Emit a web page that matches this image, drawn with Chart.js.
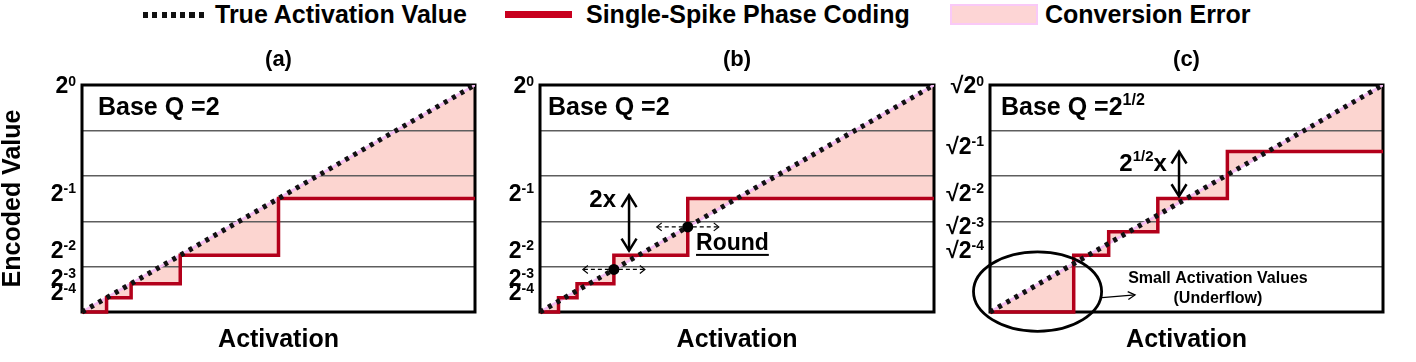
<!DOCTYPE html>
<html>
<head>
<meta charset="utf-8">
<script src="https://cdn.jsdelivr.net/npm/chart.js@4.4.1/dist/chart.umd.min.js"></script>
<style>
  body { margin: 0; width: 1416px; height: 362px; background: #fff; overflow: hidden; position: relative; font-family: "Liberation Sans", Arial, sans-serif; }
  .lg { position: absolute; }
  .lt { position: absolute; top: 0; font-weight: bold; font-size: 25px; line-height: 28px; color: #000; white-space: nowrap; }
  canvas { position: absolute; top: 36px; }
</style>
</head>
<body>
<div class="lg" style="left:143px;top:12px;width:65px;height:6px;background:repeating-linear-gradient(90deg,#111 0 5px,transparent 5px 9.3px)"></div>
<div class="lt" style="left:215px">True Activation Value</div>
<div class="lg" style="left:505px;top:11px;width:67px;height:7px;background:#C8001E"></div>
<div class="lt" style="left:586px">Single-Spike Phase Coding</div>
<div class="lg" style="left:950px;top:4px;width:88px;height:21px;box-sizing:border-box;background:#FDD5D5;border:2px solid #F9C9F7"></div>
<div class="lt" style="left:1045px">Conversion Error</div>

<canvas id="pa" width="480" height="326" style="left:0"></canvas>
<canvas id="pb" width="470" height="326" style="left:480px"></canvas>
<canvas id="pc" width="472" height="326" style="left:944px"></canvas>

<script>
// both axes run 0..1, true activation is the diagonal
const diagonal = [0, 1];

// (a) base 2, floor
const stepXA = [0.0625, 0.125, 0.25, 0.5];
const levelsA = [0, 0.0625, 0.125, 0.25, 0.5];
// (b) base 2, round
const stepXB = [0.047, 0.094, 0.1875, 0.375];
const levelsB = [0, 0.0625, 0.125, 0.25, 0.5];
const roundPointsB = [0.1875, 0.375];
// (c) base 2^(1/2)
const stepXC = [0.213, 0.302, 0.427, 0.604];
const levelsC = [0, 0.25, 0.354, 0.5, 0.707];

// y tick labels
const tickValsAB = [1, 0.5, 0.25, 0.125, 0.0625];
const tickValsC = [1, 0.707, 0.5, 0.354, 0.25];
const tickExps = ['0', '-1', '-2', '-3', '-4'];

const FONT = '"Liberation Sans", Arial, sans-serif';
const bold = n => `bold ${n}px ${FONT}`;
Chart.defaults.font.family = FONT;
Chart.defaults.color = '#000';

function stepPoints(xs, lv) {
  const pts = [{x: 0, y: lv[0]}];
  xs.forEach((sx, i) => {
    pts.push({x: sx, y: lv[i]}, {x: sx, y: lv[i + 1]});
  });
  pts.push({x: 1, y: lv[lv.length - 1]});
  return pts;
}

function drawRich(ctx, parts, x, y, align) {
  let w = 0;
  parts.forEach(p => { ctx.font = p.font; p.w = ctx.measureText(p.t).width; w += p.w; });
  let cx = align === 'right' ? x - w : align === 'center' ? x - w / 2 : x;
  ctx.textAlign = 'left';
  ctx.textBaseline = 'middle';
  parts.forEach(p => { ctx.font = p.font; ctx.fillText(p.t, cx, y + (p.dy || 0)); cx += p.w; });
  return w;
}

function chevron(ctx, x, y, ang, len, half) {
  const bx = x - Math.cos(ang) * len, by = y - Math.sin(ang) * len;
  const nx = -Math.sin(ang) * half, ny = Math.cos(ang) * half;
  ctx.beginPath();
  ctx.moveTo(bx + nx, by + ny);
  ctx.lineTo(x, y);
  ctx.lineTo(bx - nx, by - ny);
  ctx.stroke();
}

function doubleArrow(ctx, px, yBottom, yTop) {
  ctx.beginPath();
  ctx.moveTo(px, yBottom);
  ctx.lineTo(px, yTop);
  ctx.stroke();
  chevron(ctx, px, yTop, -Math.PI / 2, 12, 7.5);
  chevron(ctx, px, yBottom, Math.PI / 2, 12, 7.5);
}

const panelInfo = {
  a: {tickVals: tickValsAB, tickBase: '2', baseSup: '', baseDx: 16},
  b: {tickVals: tickValsAB, tickBase: '2', baseSup: '', baseDx: 8},
  c: {tickVals: tickValsC, tickBase: '\u221A2', baseSup: '1/2', baseDx: 11}
};

function extrasB(ctx, X, Y) {
  // dashed "round" arrows
  ctx.lineWidth = 1.2;
  roundPointsB.forEach(v => {
    const px = X(v), py = Y(v);
    ctx.setLineDash([4, 3]);
    ctx.beginPath(); ctx.moveTo(px - 30, py); ctx.lineTo(px + 30, py); ctx.stroke();
    ctx.setLineDash([]);
    chevron(ctx, px - 31, py, Math.PI, 5, 4);
    chevron(ctx, px + 31, py, 0, 5, 4);
  });
  ctx.lineWidth = 2.5;
  doubleArrow(ctx, X(0.226), Y(0.27), Y(0.515));
  drawRich(ctx, [{t: '2x', font: bold(24)}], X(0.193), Y(0.493), 'right');
  const rx = X(0.396), ry = Y(0.3);
  const w = drawRich(ctx, [{t: 'Round', font: bold(23)}], rx, ry, 'left');
  ctx.fillRect(rx, ry + 10, w, 2);
}

function extrasC(ctx, X, Y) {
  drawRich(ctx, [{t: '2', font: bold(24)}, {t: '1/2', font: bold(15), dy: -7}, {t: 'x', font: bold(24)}], X(0.45), Y(0.652), 'right');
  ctx.lineWidth = 2.5;
  doubleArrow(ctx, X(0.481), Y(0.51), Y(0.707));
  // underflow ellipse
  ctx.lineWidth = 2.8;
  ctx.beginPath();
  ctx.ellipse(X(0.121), Y(0.09), (X(1) - X(0)) * 0.163, (Y(0) - Y(1)) * 0.175, 0, 0, Math.PI * 2);
  ctx.stroke();
  ctx.lineWidth = 1.3;
  const x1 = X(0.285), y1 = Y(0.063), x2 = X(0.369), y2 = Y(0.075);
  ctx.beginPath(); ctx.moveTo(x1, y1); ctx.lineTo(x2, y2); ctx.stroke();
  chevron(ctx, x2, y2, Math.atan2(y2 - y1, x2 - x1), 7, 4);
  drawRich(ctx, [{t: 'Small Activation Values', font: bold(16)}], X(0.58), Y(0.146), 'center');
  drawRich(ctx, [{t: '(Underflow)', font: bold(16)}], X(0.58), Y(0.058), 'center');
}

const overlay = {
  id: 'overlay',
  beforeDatasetsDraw(chart) {
    const {ctx, chartArea: a} = chart;
    ctx.save();
    ctx.strokeStyle = '#000';
    ctx.lineWidth = 3;
    ctx.lineJoin = 'miter';
    ctx.strokeRect(a.left, a.top, a.right - a.left, a.bottom - a.top);
    ctx.restore();
  },
  afterDatasetsDraw(chart, args, opts) {
    const {ctx, chartArea: a, scales: {x, y}} = chart;
    const info = panelInfo[opts.panel];
    const X = v => x.getPixelForValue(v), Y = v => y.getPixelForValue(v);
    ctx.save();
    ctx.fillStyle = '#000';
    ctx.strokeStyle = '#000';
    info.tickVals.forEach((v, i) => {
      const cy = Math.max(Y(v) - 4, a.top + 2);
      drawRich(ctx, [{t: info.tickBase, font: bold(23)}, {t: tickExps[i], font: bold(14), dy: -5}], a.left - 6, cy, 'right');
    });
    const bq = [{t: 'Base Q =2', font: bold(25)}];
    if (info.baseSup) bq.push({t: info.baseSup, font: bold(16), dy: -7});
    drawRich(ctx, bq, a.left + info.baseDx, a.top + 23, 'left');
    if (opts.panel === 'b') extrasB(ctx, X, Y);
    if (opts.panel === 'c') extrasC(ctx, X, Y);
    ctx.restore();
  }
};

function makePanel(id, panel, title, stepX, levels, padL, padR, withYTitle) {
  const diag = diagonal.map(v => ({x: v, y: v}));
  const steps = stepPoints(stepX, levels);
  const datasets = [
    {label: 'True Activation Value', data: diag, borderColor: '#111', borderWidth: 5, borderDash: [4, 5.5], order: 0, clip: false},
    {label: 'Single-Spike Phase Coding', data: steps, borderColor: '#B3001B', borderWidth: 3.5, borderJoinStyle: 'miter', order: 1, clip: false},
    {label: 'diag edge', data: diag, borderColor: '#F4BCF2', borderWidth: 2.5, order: 2},
    {label: 'Conversion Error', data: steps.concat(diag.slice().reverse()), borderColor: 'transparent', borderWidth: 0, backgroundColor: '#FCD5D0', fill: 'shape', order: 3}
  ];
  if (panel === 'b') {
    datasets.push({label: 'round', data: roundPointsB.map(v => ({x: v, y: v})), showLine: false, pointRadius: 5.5, pointBorderWidth: 0, pointBackgroundColor: '#000', order: -1});
  }
  const hidden = {display: false, drawTicks: false};
  new Chart(document.getElementById(id), {
    type: 'line',
    data: {datasets: datasets},
    options: {
      responsive: false,
      animation: false,
      events: [],
      devicePixelRatio: 1,
      layout: {padding: {left: padL, right: padR, top: 0, bottom: 0}, autoPadding: false},
      elements: {point: {radius: 0}, line: {tension: 0}},
      plugins: {
        legend: {display: false},
        tooltip: {enabled: false},
        filler: {drawTime: 'beforeDraw'},
        overlay: {panel: panel}
      },
      scales: {
        x: {
          type: 'linear', min: 0, max: 1,
          grid: hidden, border: {display: false}, ticks: {display: false},
          title: {display: true, text: 'Activation', font: {size: 25, weight: 'bold', lineHeight: 1.2}, padding: {top: 13, bottom: 7}}
        },
        xTop: {
          type: 'linear', position: 'top', min: 0, max: 1,
          grid: hidden, border: {display: false}, ticks: {display: false},
          title: {display: true, text: title, font: {size: 22, weight: 'bold', lineHeight: 1.2}, padding: {top: 10.8, bottom: 11.8}}
        },
        y: {
          type: 'linear', min: 0, max: 1,
          ticks: {display: false, stepSize: 0.2},
          grid: {color: '#5e5e5e', lineWidth: 1.4, drawTicks: false},
          border: {display: false},
          title: withYTitle
            ? {display: true, text: 'Encoded Value', font: {size: 25, weight: 'bold', lineHeight: 1}, padding: {top: 0.5, bottom: 56.5}}
            : {display: false}
        }
      }
    },
    plugins: [overlay]
  });
}

makePanel('pa', 'a', '(a)', stepXA, levelsA, 0, 5, true);
makePanel('pb', 'b', '(b)', stepXB, levelsB, 60, 16, false);
makePanel('pc', 'c', '(c)', stepXC, levelsC, 46, 33, false);
</script>
</body>
</html>
